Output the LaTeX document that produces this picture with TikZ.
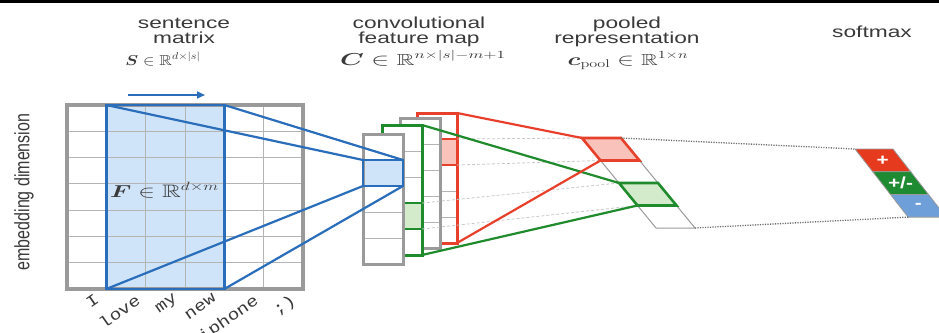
\documentclass[tikz,border=0pt]{standalone}
\usepackage{amsmath,amssymb,bm}
\usepackage{fontspec}
\newfontfamily\titlefont[FakeStretch=1.42]{Liberation Sans}
\newfontfamily\plainsans{Liberation Sans}
\newfontfamily\wordfont{Liberation Mono}
\usetikzlibrary{arrows.meta}

\definecolor{cblue}{HTML}{2A6EBB}
\definecolor{bluefill}{HTML}{D0E4F9}
\definecolor{cgreen}{HTML}{1F8B2C}
\definecolor{greenfill}{HTML}{D3EBCB}
\definecolor{cred}{HTML}{E8412B}
\definecolor{redfill}{HTML}{F9C2BB}
\definecolor{framegray}{HTML}{9A9A9A}
\definecolor{gridline}{HTML}{B4B4B4}
\definecolor{faintgray}{HTML}{C8C8C8}
\definecolor{dotgray}{HTML}{6A6A6A}
\definecolor{titlegray}{HTML}{3A3A3A}
\definecolor{softred}{HTML}{E63A1F}
\definecolor{softgreen}{HTML}{1E8A31}
\definecolor{softblue}{HTML}{6F9FD8}

% horizontally widened math
\newcommand{\wmath}[2]{\scalebox{#1}[1]{$#2$}}

% one column of the feature map: name, x, y, frame style, marked row, cell fill, cell border style
\newcommand{\featcol}[7]{%
  \coordinate (#1-nw) at (#2,#3);
  \coordinate (#1-ne) at ({#2+40},#3);
  \coordinate (#1-sw) at (#2,{#3+130});
  \coordinate (#1-se) at ({#2+40},{#3+130});
  \coordinate (#1-cnw) at (#2,{#3+26*#5});
  \coordinate (#1-cne) at ({#2+40},{#3+26*#5});
  \coordinate (#1-csw) at (#2,{#3+26*(#5+1)});
  \coordinate (#1-cse) at ({#2+40},{#3+26*(#5+1)});
  \fill[white] (#1-nw) rectangle (#1-se);
  \fill[#6] (#1-cnw) rectangle (#1-cse);
  \foreach \k in {1,...,4} \draw[gridthin] (#2,{#3+26*\k}) -- ({#2+40},{#3+26*\k});
  \draw[#4, line width=3pt] (#1-nw) rectangle (#1-se);
  \draw[#7, line width=2.6pt] (#1-cnw) rectangle (#1-cse);
}

% one slanted cell of the pooled vector: name, row, fill, border style
\newcommand{\poolcell}[4]{%
  \coordinate (#1-nw) at ({582+18.5*#2},{138+22.5*#2});
  \coordinate (#1-ne) at ({621+18.5*#2},{138+22.5*#2});
  \coordinate (#1-se) at ({639.5+18.5*#2},{160.5+22.5*#2});
  \coordinate (#1-sw) at ({600.5+18.5*#2},{160.5+22.5*#2});
  \filldraw[fill=#3, #4] (#1-nw) -- (#1-ne) -- (#1-se) -- (#1-sw) -- cycle;
}

% one slanted cell of the softmax output: name, row, fill, sign
\newcommand{\softcell}[4]{%
  \coordinate (#1-nw) at ({855+17.7*#2},{149+22.7*#2});
  \coordinate (#1-ne) at ({893+17.7*#2},{149+22.7*#2});
  \coordinate (#1-se) at ({910.7+17.7*#2},{171.7+22.7*#2});
  \coordinate (#1-sw) at ({872.7+17.7*#2},{171.7+22.7*#2});
  \filldraw[fill=#3, draw=framegray, line width=0.8pt] (#1-nw) -- (#1-ne) -- (#1-se) -- (#1-sw) -- cycle;
  \node[signlab] (#1-t) at ({882.8+17.7*#2},{160.4+22.7*#2}) {\scalebox{1.3}[1]{#4}};
}

\begin{document}
\begin{tikzpicture}[x=1pt,y=-1pt,
  gridthin/.style={draw=gridline, line width=1pt},
  gridframe/.style={draw=framegray, line width=3.6pt},
  blueframe/.style={draw=cblue, line width=2.8pt},
  link/.style={line width=2.2pt},
  faint/.style={draw=faintgray, line width=0.8pt, dash pattern=on 3pt off 2pt},
  dots/.style={draw=dotgray, line width=1.3pt, dash pattern=on 1.2pt off 1.3pt},
  title/.style={font=\titlefont\fontsize{16}{16}\selectfont, text=titlegray, anchor=base, inner sep=0pt},
  mathlab/.style={text=titlegray, anchor=base, inner sep=0pt},
  word/.style={font=\wordfont\fontsize{16}{16}\selectfont, text=titlegray, rotate=35, anchor=north east, inner sep=0pt},
  signlab/.style={font=\plainsans\bfseries\fontsize{16}{16}\selectfont, text=white, inner sep=0pt},
]
\clip (0,0) rectangle (939,332);
\fill[white] (0,0) rectangle (939,332);
\draw[line width=3pt] (0,1.5) -- (939,1.5);

% headings
\node[title] (h1a) at (184,28) {sentence};
\node[title] (h1b) at (184,43) {matrix};
\node[mathlab, font=\fontsize{14.5}{14.5}\selectfont] (h1c) at (163,65) {\wmath{1.2}{\bm{S}\in\mathbb{R}^{d\times|s|}}};
\node[title] (h2a) at (419,28) {convolutional};
\node[title] (h2b) at (419,43) {feature map};
\node[mathlab, font=\fontsize{16}{16}\selectfont] (h2c) at (423,65) {\wmath{1.55}{\bm{C}\in\mathbb{R}^{n\times|s|-m+1}}};
\node[title] (h3a) at (627,28) {pooled};
\node[title] (h3b) at (627,43) {representation};
\node[mathlab, font=\fontsize{16}{16}\selectfont] (h3c) at (628,65) {\wmath{1.45}{\bm{c}_{\mathrm{pool}}\in\mathbb{R}^{1\times n}}};
\node[title] (h4) at (872,37) {softmax};
\node[text=titlegray, inner sep=0pt, rotate=90, font=\plainsans\fontsize{16}{16}\selectfont] (emb) at (24,192) {\scalebox{1}[1.3]{embedding dimension}};

% sentence matrix
\coordinate (S-nw) at (67,105);
\coordinate (S-se) at (303,289);
\coordinate (F-nw) at (106.33,105);
\coordinate (F-ne) at (224.33,105);
\coordinate (F-sw) at (106.33,289);
\coordinate (F-se) at (224.33,289);
\fill[bluefill] (F-nw) rectangle (F-se);
\foreach \i in {1,...,5} \draw[gridthin] ({67+39.333*\i},105) -- ({67+39.333*\i},289);
\foreach \j in {1,...,6} \draw[gridthin] (67,{105+26.286*\j}) -- (303,{105+26.286*\j});
\draw[gridframe] (S-nw) rectangle (S-se);
\draw[blueframe] (F-nw) rectangle (F-se);
\node[mathlab, anchor=base west, font=\fontsize{18}{18}\selectfont] (Flab) at (110,197) {\wmath{1.45}{\bm{F}\in\mathbb{R}^{d\times m}}};

% sliding direction
\coordinate (arr-a) at (128,95);
\coordinate (arr-b) at (205,95);
\draw[cblue, line width=2pt, -{Triangle[length=8pt,width=7pt]}] (arr-a) -- (arr-b);

% words
\node[word] (w1) at (94,293) {\scalebox{1.2}[1]{I}};
\node[word] (w2) at (135,293) {\scalebox{1.2}[1]{love}};
\node[word] (w3) at (173,293) {\scalebox{1.2}[1]{my}};
\node[word] (w4) at (212,293) {\scalebox{1.2}[1]{new}};
\node[word] (w5) at (253,293) {\scalebox{1.2}[1]{iphone}};
\node[word] (w6) at (290,293) {\scalebox{1.2}[1]{;)}};

% feature map columns, back to front
\featcol{rc}{417}{113}{draw=cred}{1}{redfill}{draw=cred}
\featcol{gb}{400}{118}{draw=framegray}{0}{white}{draw=none}
\featcol{gc}{382}{125}{draw=cgreen}{3}{greenfill}{draw=cgreen}
\featcol{fa}{363}{134}{draw=framegray}{1}{bluefill}{draw=cblue}

% filter to feature
\draw[link, cblue] (F-nw) -- (fa-cnw);
\draw[link, cblue] (F-ne) -- (fa-cne);
\draw[link, cblue] (F-sw) -- (fa-csw);
\draw[link, cblue] (F-se) -- (fa-cse);

% pooled vector
\poolcell{p1}{1}{white}{draw=framegray, line width=1pt}
\poolcell{p3}{3}{white}{draw=framegray, line width=1pt}
\poolcell{p0}{0}{redfill}{draw=cred, line width=2.6pt}
\poolcell{p2}{2}{greenfill}{draw=cgreen, line width=2.6pt}

% max pooling
\draw[faint] (rc-cne) -- (p0-nw);
\draw[faint] (rc-cse) -- (p0-sw);
\draw[faint] (gc-cne) -- (p2-nw);
\draw[faint] (gc-cse) -- (p2-sw);
\draw[link, cgreen] (gc-ne) -- (p2-nw);
\draw[link, cgreen] (gc-se) -- (p2-sw);
\draw[link, cred] (rc-ne) -- (p0-nw);
\draw[link, cred] (rc-se) -- (p0-sw);

% softmax output
\softcell{s0}{0}{softred}{+}
\softcell{s1}{1}{softgreen}{+/-}
\softcell{s2}{2}{softblue}{-}
\draw[dots] (p0-ne) -- (s0-nw);
\draw[dots] (p3-se) -- (s2-sw);
\end{tikzpicture}
\end{document}
